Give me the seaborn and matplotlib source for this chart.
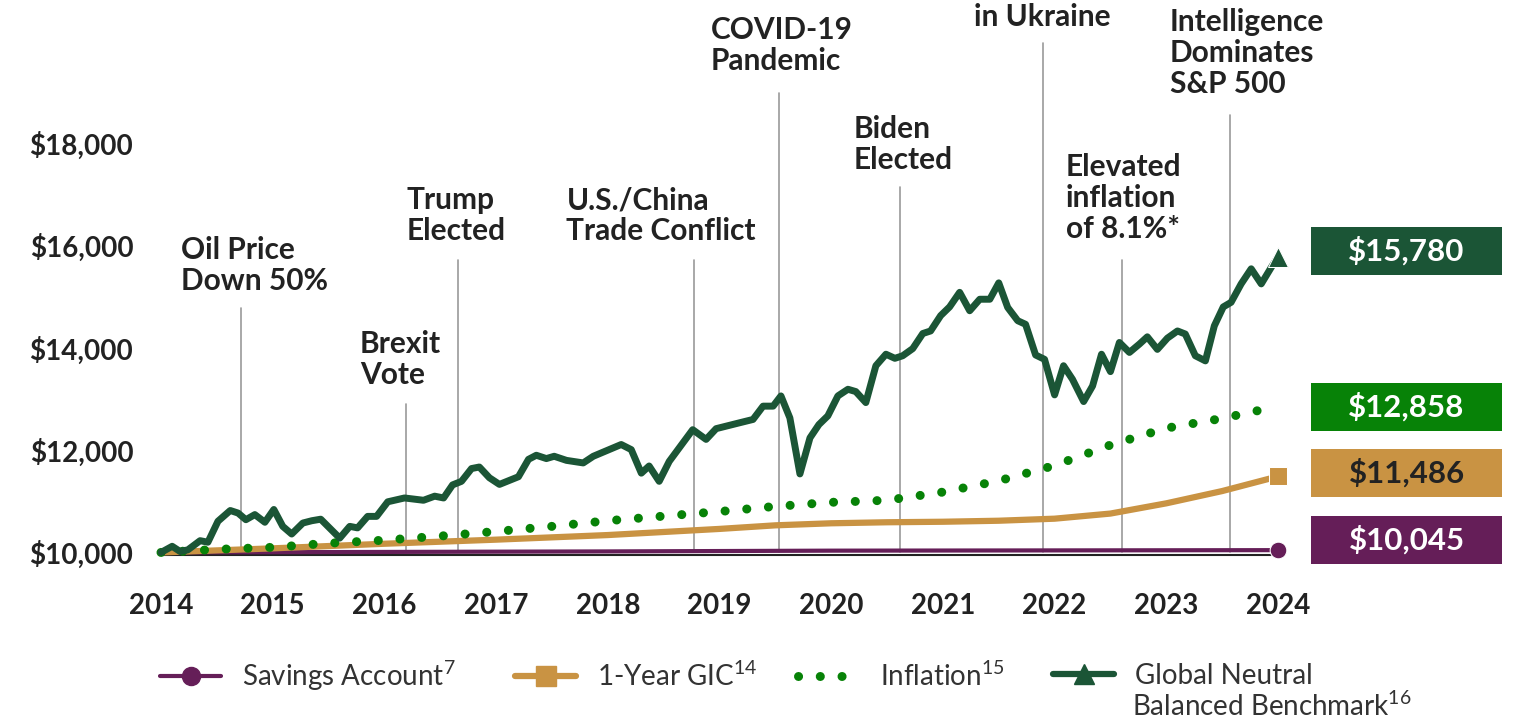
import seaborn as sns
import matplotlib.pyplot as plt
from matplotlib.lines import Line2D
from matplotlib.patches import Rectangle

# benchmark (traced vertices, decimal years)
bench_x = [2014.00, 2014.10, 2014.17, 2014.24, 2014.35, 2014.42, 2014.51, 2014.62, 2014.69, 2014.76,
           2014.84, 2014.93, 2015.01, 2015.09, 2015.17, 2015.27, 2015.35, 2015.43, 2015.60, 2015.69,
           2015.76, 2015.85, 2015.93, 2016.03, 2016.18, 2016.35, 2016.45, 2016.53, 2016.61, 2016.69,
           2016.78, 2016.85, 2016.94, 2017.03, 2017.20, 2017.29, 2017.36, 2017.45, 2017.52, 2017.63,
           2017.78, 2017.87, 2018.12, 2018.21, 2018.30, 2018.37, 2018.46, 2018.55, 2018.76, 2018.88,
           2018.97, 2019.18, 2019.30, 2019.39, 2019.48, 2019.55, 2019.63, 2019.72, 2019.81, 2019.89,
           2019.97, 2020.06, 2020.15, 2020.22, 2020.31, 2020.40, 2020.49, 2020.57, 2020.64, 2020.73,
           2020.82, 2020.89, 2020.98, 2021.06, 2021.15, 2021.24, 2021.33, 2021.42, 2021.50, 2021.58,
           2021.67, 2021.74, 2021.83, 2021.91, 2022.00, 2022.08, 2022.16, 2022.26, 2022.34, 2022.42,
           2022.50, 2022.58, 2022.67, 2022.76, 2022.83, 2022.92, 2023.01, 2023.10, 2023.17, 2023.26,
           2023.35, 2023.43, 2023.51, 2023.58, 2023.67, 2023.76, 2023.85, 2023.94, 2024.00]
bench_y = [10000, 10120, 10020, 10050, 10230, 10200, 10610, 10820, 10770, 10640,
           10740, 10590, 10840, 10510, 10360, 10575, 10620, 10650, 10280, 10510,
           10480, 10705, 10705, 10990, 11065, 11020, 11100, 11065, 11320, 11390,
           11640, 11670, 11460, 11330, 11480, 11820, 11900, 11835, 11880, 11800,
           11750, 11880, 12110, 12010, 11550, 11690, 11390, 11780, 12400, 12210,
           12420, 12535, 12600, 12860, 12860, 13060, 12630, 11535, 12240, 12500,
           12670, 13060, 13190, 13145, 12930, 13650, 13875, 13795, 13845, 13985,
           14280, 14330, 14630, 14800, 15085, 14725, 14950, 14950, 15270, 14790,
           14530, 14460, 13860, 13775, 13080, 13650, 13385, 12950, 13255, 13875,
           13535, 14105, 13910, 14075, 14215, 13970, 14190, 14330, 14270, 13845,
           13745, 14430, 14800, 14890, 15250, 15545, 15250, 15575, 15780]

infl_x = [2014.0, 2014.5, 2015.0, 2015.5, 2016.0, 2016.5, 2017.0, 2017.5, 2018.0, 2018.5, 2019.0,
          2019.5, 2020.0, 2020.5, 2021.0, 2021.5, 2022.0, 2022.5, 2023.0, 2023.5, 2024.0]
infl_y = [10000, 10060, 10100, 10180, 10240, 10320, 10410, 10510, 10620, 10710, 10800,
          10900, 10980, 11020, 11180, 11400, 11700, 12100, 12430, 12620, 12858]

gic_x = [2014.0, 2015.0, 2016.0, 2017.0, 2018.0, 2018.5, 2019.0, 2019.5, 2020.0, 2020.5,
         2021.0, 2021.5, 2022.0, 2022.5, 2023.0, 2023.5, 2024.0]
gic_y = [10000, 10080, 10170, 10250, 10340, 10400, 10460, 10530, 10570, 10590,
         10600, 10620, 10660, 10760, 10960, 11200, 11486]

sav_x = [2014, 2016, 2018, 2020, 2022, 2024]
sav_y = [10000, 10010, 10020, 10035, 10040, 10045]

event_x = [2014.72, 2016.19, 2016.66, 2018.77, 2019.53, 2020.62, 2021.90, 2022.60, 2023.57]
event_top = [14779, 12902, 15717, 15717, 18982, 17144, 19960, 15717, 18552]
event_labels = ["Oil Price\nDown 50%", "Brexit\nVote", "Trump\nElected", "U.S./China\nTrade Conflict",
                "COVID-19\nPandemic", "Biden\nElected", "in Ukraine", "Elevated\ninflation\nof 8.1%*",
                "Intelligence\nDominates\nS&P 500"]
# label anchor (left x, block centre y)
label_pos = [(2014.18, 15610), (2015.78, 13772), (2016.20, 16587), (2017.63, 16587), (2018.92, 19911),
             (2020.20, 17975), (2021.89, 20468), (2022.10, 16929), (2023.03, 19764)]

end_labels = ["$15,780", "$12,858", "$11,486", "$10,045"]

c_bench = "#1b5536"
c_infl = "#078207"
c_gic = "#c99343"
c_sav = "#651e58"
txt = "#222222"

sns.set_theme(style="white")
plt.rcParams['font.family'] = ['Lato', 'DejaVu Sans']
plt.rcParams['mathtext.fontset'] = 'custom'
plt.rcParams['mathtext.rm'] = 'Lato'
plt.rcParams['mathtext.default'] = 'regular'

fig = plt.figure(figsize=(15.35, 7.18), dpi=100)
ax = fig.add_axes([161 / 1535, 1 - 555 / 718, 1117 / 1535, 555 / 718])

# event lines
for x, top in zip(event_x, event_top):
    ax.plot([x, x], [10000, top], color="#9a9a9a", lw=1.2, zorder=1)

for (lx, ly), lab in zip(label_pos, event_labels):
    ha = "center" if lab == "in Ukraine" else "left"
    ax.text(lx, ly, lab, ha=ha, va="center", fontsize=21.5, fontweight="bold",
            color=txt, linespacing=1.12, clip_on=False)

sns.lineplot(x=sav_x, y=sav_y, ax=ax, color=c_sav, lw=3, marker="o", markersize=12,
             markevery=[len(sav_x) - 1], clip_on=False, zorder=3)
sns.lineplot(x=gic_x, y=gic_y, ax=ax, color=c_gic, lw=4.5, marker="s", markersize=13,
             markevery=[len(gic_x) - 1], clip_on=False, zorder=3)
ax.plot(infl_x, infl_y, color=c_infl, lw=6.5, linestyle=(0, (0.01, 2.4)),
        dash_capstyle="round", clip_on=False, zorder=3)
sns.lineplot(x=bench_x, y=bench_y, ax=ax, color=c_bench, lw=5, marker="^", markersize=15,
             markevery=[len(bench_x) - 1], clip_on=False, zorder=4)

ax.set_xlim(2014, 2024)
ax.set_ylim(9950, 20800)
ax.set_xticks(range(2014, 2025))
ax.set_yticks([10000, 12000, 14000, 16000, 18000])
ax.set_yticklabels([f"${v:,}" for v in [10000, 12000, 14000, 16000, 18000]])
ax.tick_params(axis="y", length=0, pad=20, labelsize=20, labelcolor=txt)
ax.tick_params(axis="x", length=0, pad=27, labelsize=20, labelcolor=txt)
for lab in ax.get_xticklabels() + ax.get_yticklabels():
    lab.set_fontweight("bold")
for s in ["top", "right", "left"]:
    ax.spines[s].set_visible(False)
ax.spines["bottom"].set_color("#222222")
ax.spines["bottom"].set_linewidth(1.5)
ax.grid(False)

# value boxes at right
box_bottoms = [1 - 275 / 718, 1 - 431 / 718, 1 - 497 / 718, 1 - 564 / 718]
box_colors = [c_bench, c_infl, c_gic, c_sav]
box_text = ["white", "white", txt, "white"]
for b, col, tc, lab in zip(box_bottoms, box_colors, box_text, end_labels):
    fig.patches.append(Rectangle((1311 / 1535, b), 191 / 1535, 48 / 718, transform=fig.transFigure,
                                 facecolor=col, edgecolor="none"))
    fig.text(1406.5 / 1535, b + 24 / 718, lab, ha="center", va="center", color=tc,
             fontsize=22.5, fontweight="bold")

# legend: one entry per anchor so the columns sit where they do in the original
handles = [
    Line2D([], [], color=c_sav, lw=3, marker="o", markersize=13),
    Line2D([], [], color=c_gic, lw=4.5, marker="s", markersize=14, solid_capstyle="round"),
    Line2D([], [], color=c_infl, lw=6.5, linestyle=(0, (0.01, 2.4)), dash_capstyle="round"),
    Line2D([], [], color=c_bench, lw=4.5, marker="^", markersize=15, solid_capstyle="round"),
]
labels = ["Savings Account$^{7}$", "1-Year GIC$^{14}$", "Inflation$^{15}$", "Global Neutral"]
leg_x = [160, 515, 798, 1053]
for h, lab, lx in zip(handles, labels, leg_x):
    leg = fig.legend([h], [lab], loc="center left", bbox_to_anchor=(lx / 1535, 1 - 676 / 718),
                     frameon=False, fontsize=20, handlelength=2.2, handletextpad=0.75,
                     borderpad=0, borderaxespad=0)
    leg.get_texts()[0].set_color("#333333")
fig.text(1132 / 1535, 1 - 706 / 718, "Balanced Benchmark$^{16}$", ha="left", va="center",
         fontsize=20, color="#333333")

fig.savefig("out.png", dpi=100)
